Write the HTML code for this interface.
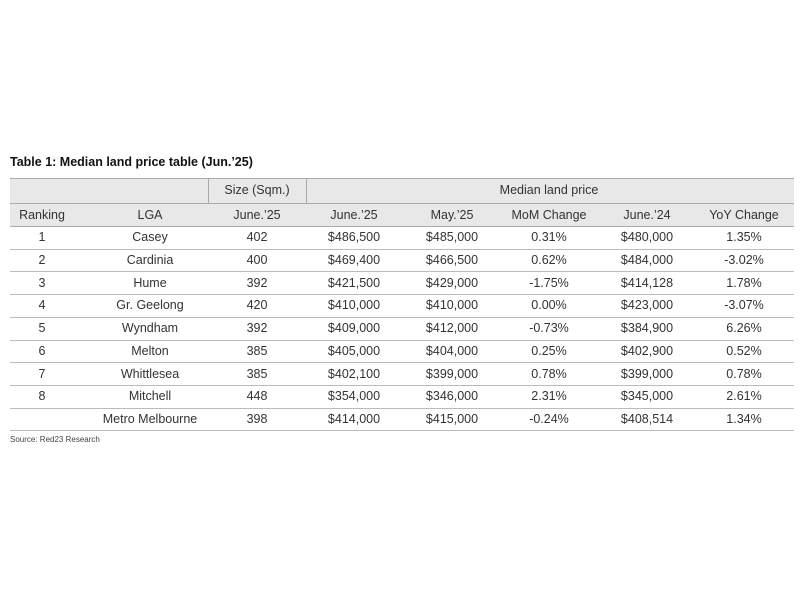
<!DOCTYPE html>
<html><head><meta charset="utf-8"><style>
body{margin:0;width:800px;height:600px;background:#fff;font-family:"Liberation Sans",sans-serif;position:relative;overflow:hidden}
.t{position:absolute;white-space:nowrap;color:#333;font-size:12.5px;transform:translate(-50%,-50%)}
.title{position:absolute;left:10px;top:155px;font-size:12.5px;font-weight:bold;color:#111}
.src{position:absolute;left:10px;top:435px;font-size:8px;color:#444}
.hbg{position:absolute;left:10px;width:784px;background:#e8e8e8}
.hl{position:absolute;left:10px;width:784px;height:1px;background:#aaa}
.vl{position:absolute;width:1px;background:#aaa}
</style></head><body>
<div class="title">Table 1: Median land price table (Jun.’25)</div>
<div id="tbl"></div>
<div class="src">Source: Red23 Research</div>
<script>
const header1=[["Size  (Sqm.)",257],["Median land price",549]];
const header2=["Ranking","LGA","June.’25","June.’25","May.’25","MoM Change","June.’24","YoY Change"];
const rows=[
["1","Casey","402","$486,500","$485,000","0.31%","$480,000","1.35%"],
["2","Cardinia","400","$469,400","$466,500","0.62%","$484,000","-3.02%"],
["3","Hume","392","$421,500","$429,000","-1.75%","$414,128","1.78%"],
["4","Gr. Geelong","420","$410,000","$410,000","0.00%","$423,000","-3.07%"],
["5","Wyndham","392","$409,000","$412,000","-0.73%","$384,900","6.26%"],
["6","Melton","385","$405,000","$404,000","0.25%","$402,900","0.52%"],
["7","Whittlesea","385","$402,100","$399,000","0.78%","$399,000","0.78%"],
["8","Mitchell","448","$354,000","$346,000","2.31%","$345,000","2.61%"],
["","Metro Melbourne","398","$414,000","$415,000","-0.24%","$408,514","1.34%"]];
const centers=[42,150,257,354,452,549,647,744];
const T=document.getElementById('tbl');
function add(cls,style,txt,name){const d=document.createElement('div');d.className=cls;d.style.cssText=style;if(txt!==undefined)d.textContent=txt;


T.appendChild(d);}
add('hbg','top:178px;height:48px',undefined,'header-background');
add('hl','top:178px',undefined,'top-border');
add('hl','top:203px',undefined,'header-divider');
add('hl','top:226px',undefined,'header-bottom-border');
add('vl','left:208px;top:178px;height:25px',undefined,'header-vline');
add('vl','left:306px;top:178px;height:25px',undefined,'header-vline');
header1.forEach(h=>add('t',`left:${h[1]}px;top:190px`,h[0],'group-header'));
header2.forEach((h,i)=>add('t',`left:${centers[i]}px;top:215px`,h,'column-header'));
const y0=226,rh=22.7;
rows.forEach((r,ri)=>{const cy=y0+rh*ri+rh/2;
r.forEach((c,ci)=>add('t',`left:${centers[ci]}px;top:${cy}px`,c,'table-cell'));
add('hl',`top:${y0+rh*(ri+1)}px;background:#bbb`,undefined,'row-border');});
</script>
</body></html>
